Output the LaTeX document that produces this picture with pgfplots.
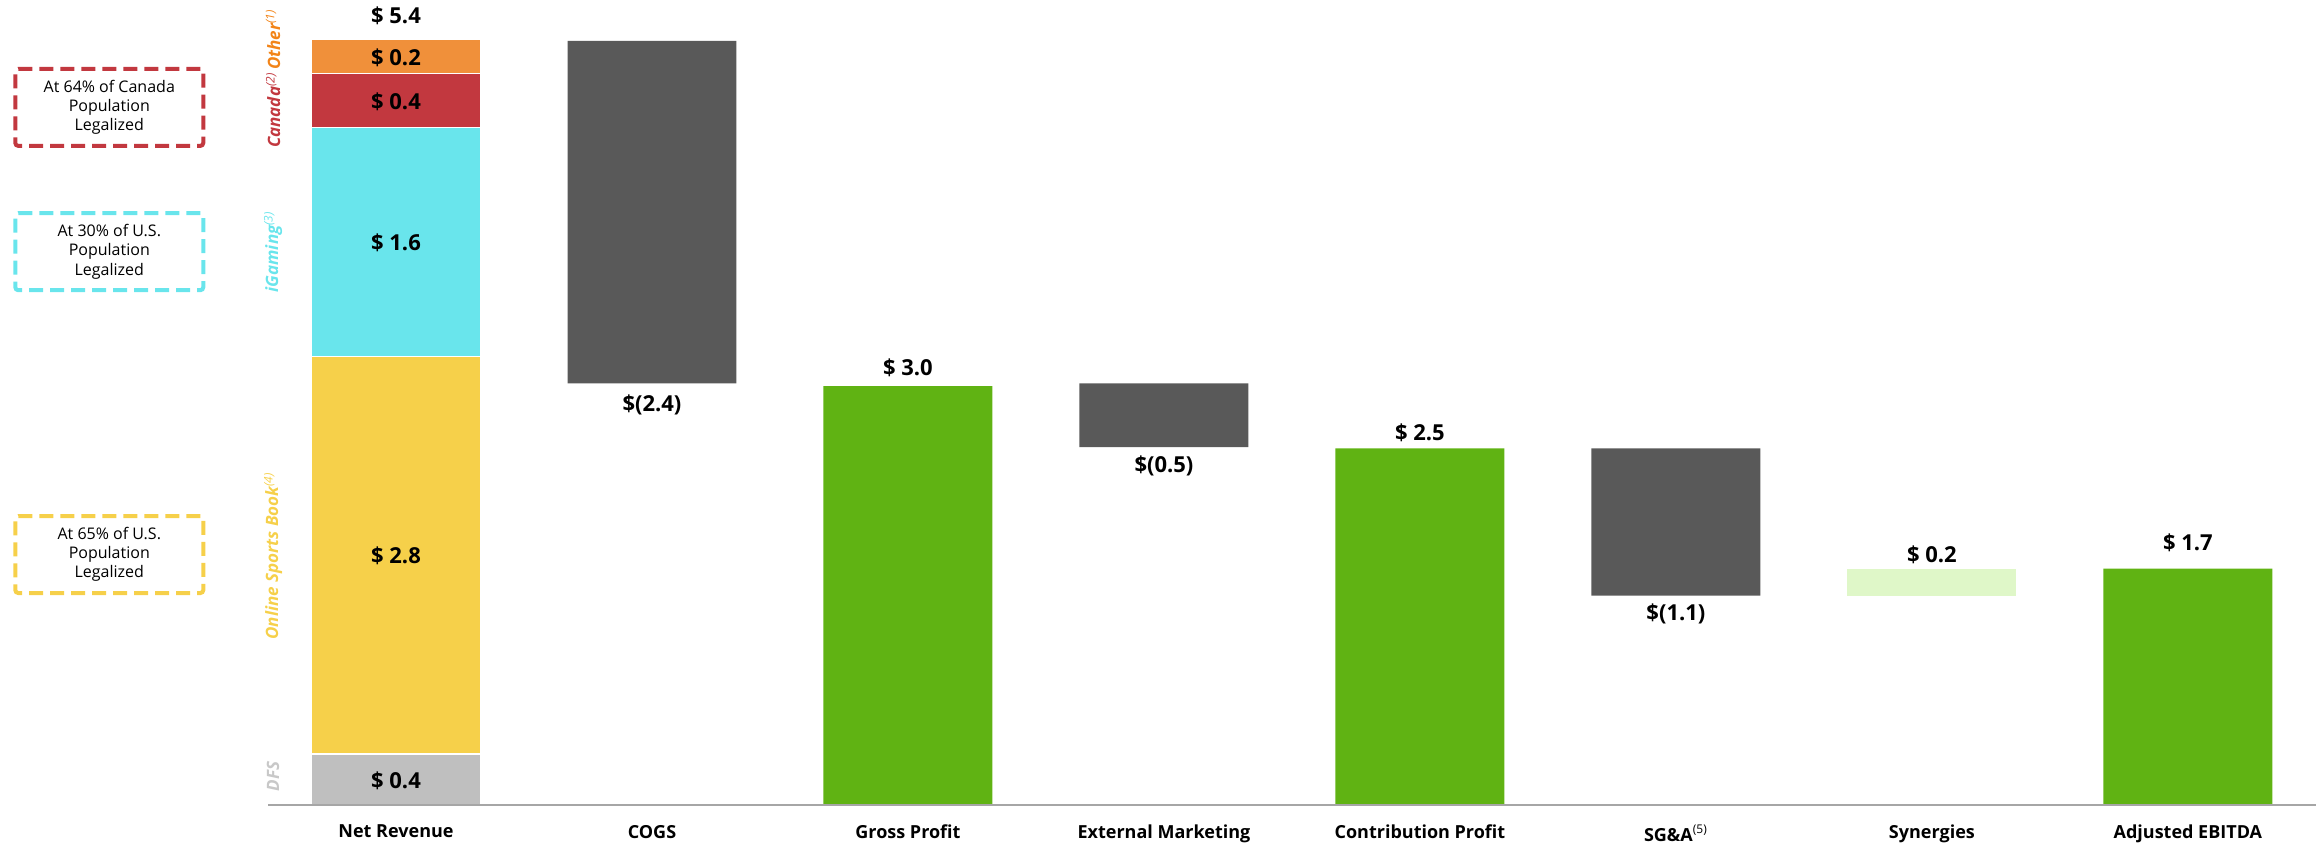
\documentclass[border=0pt]{standalone}
\usepackage{fontspec}
\setmainfont{Open Sans}
\usepackage{pgfplots}
\pgfplotsset{compat=1.18}
\definecolor{cOther}{HTML}{F0903A}
\definecolor{cOtherT}{HTML}{F28418}
\definecolor{cCan}{HTML}{C2383F}
\definecolor{cIG}{HTML}{69E5EC}
\definecolor{cOSB}{HTML}{F6D04A}
\definecolor{cDFS}{HTML}{BFBFBF}
\definecolor{cDFST}{HTML}{C8C8C8}
\definecolor{cNeg}{HTML}{595959}
\definecolor{cPos}{HTML}{60B313}
\definecolor{cSyn}{HTML}{DFF7C8}
\definecolor{cAxis}{HTML}{A6A6A6}
\begin{document}
\begin{tikzpicture}
\useasboundingbox (0,0) rectangle (1158pt,421.5pt);
\begin{axis}[
  at={(134pt,19pt)}, anchor=south west,
  scale only axis, width=1024pt, height=402.5pt,
  xmin=-0.5, xmax=7.5, ymin=0, ymax=5.689,
  ybar stacked, bar width=0.66,
  hide y axis, axis x line*=bottom,
  x axis line style={draw=none},
  xtick={0,...,7}, major tick length=0pt,
  xticklabels={Net Revenue, COGS, Gross Profit, External Marketing, Contribution Profit, {SG\&A\textsuperscript{\mdseries(5)}}, Synergies, Adjusted EBITDA},
  xticklabel style={font=\bfseries\fontsize{9}{11}\selectfont, text=black, yshift=-6.5pt},
  clip=false,
]
% invisible base of the waterfall
\addplot[fill=none, draw=none] coordinates {(0,0) (1,2.98) (2,0) (3,2.53) (4,0) (5,1.48) (6,1.48) (7,0)};
% Net revenue segments
\addplot[fill=cDFS, draw=white, line width=0.6pt] coordinates {(0,0.36) (1,0) (2,0) (3,0) (4,0) (5,0) (6,0) (7,0)};
\addplot[fill=cOSB, draw=white, line width=0.6pt] coordinates {(0,2.81) (1,0) (2,0) (3,0) (4,0) (5,0) (6,0) (7,0)};
\addplot[fill=cIG, draw=white, line width=0.6pt] coordinates {(0,1.62) (1,0) (2,0) (3,0) (4,0) (5,0) (6,0) (7,0)};
\addplot[fill=cCan, draw=white, line width=0.6pt] coordinates {(0,0.38) (1,0) (2,0) (3,0) (4,0) (5,0) (6,0) (7,0)};
\addplot[fill=cOther, draw=white, line width=0.6pt] coordinates {(0,0.24) (1,0) (2,0) (3,0) (4,0) (5,0) (6,0) (7,0)};
% decreases
\addplot[fill=cNeg, draw=none] coordinates {(0,0) (1,2.42) (2,0) (3,0.45) (4,0) (5,1.04) (6,0) (7,0)};
% totals
\addplot[fill=cPos, draw=none] coordinates {(0,0) (1,0) (2,2.96) (3,0) (4,2.52) (5,0) (6,0) (7,1.67)};
% synergies
\addplot[fill=cSyn, draw=none] coordinates {(0,0) (1,0) (2,0) (3,0) (4,0) (5,0) (6,0.19) (7,0)};

\coordinate (base0) at (axis cs:-0.5,0);
\coordinate (base1) at (axis cs:7.5,0);
\coordinate (l1) at (axis cs:0,5.58);
\coordinate (l2) at (axis cs:0,5.28);
\coordinate (l3) at (axis cs:0,4.97);
\coordinate (l4) at (axis cs:0,3.97);
\coordinate (l5) at (axis cs:0,1.76);
\coordinate (l6) at (axis cs:0,0.17);
\coordinate (w1) at (axis cs:1,2.83);
\coordinate (w2) at (axis cs:2,3.09);
\coordinate (w3) at (axis cs:3,2.40);
\coordinate (w4) at (axis cs:4,2.63);
\coordinate (w5) at (axis cs:5,1.35);
\coordinate (w6) at (axis cs:6,1.77);
\coordinate (w7) at (axis cs:7,1.85);
\coordinate (s1) at (axis cs:-0.48,5.41);
\coordinate (s2) at (axis cs:-0.48,4.91);
\coordinate (s3) at (axis cs:-0.48,3.91);
\coordinate (s4) at (axis cs:-0.48,1.76);
\coordinate (s5) at (axis cs:-0.48,0.20);
\coordinate (b1) at (axis cs:-1.12,4.93);
\coordinate (b2) at (axis cs:-1.12,3.91);
\coordinate (b3) at (axis cs:-1.12,1.77);
\end{axis}

\draw[cAxis, line width=1pt] (base0) -- (base1);

% value labels
\tikzset{vl/.style={font=\bfseries\fontsize{11}{13}\selectfont, text=black, inner sep=0pt}}
\node[vl] at (l1) {\$ 5.4};
\node[vl] at (l2) {\$ 0.2};
\node[vl] at (l3) {\$ 0.4};
\node[vl] at (l4) {\$ 1.6};
\node[vl] at (l5) {\$ 2.8};
\node[vl] at (l6) {\$ 0.4};
\node[vl] at (w1) {\$(2.4)};
\node[vl] at (w2) {\$ 3.0};
\node[vl] at (w3) {\$(0.5)};
\node[vl] at (w4) {\$ 2.5};
\node[vl] at (w5) {\$(1.1)};
\node[vl] at (w6) {\$ 0.2};
\node[vl] at (w7) {\$ 1.7};

% rotated segment names
\tikzset{sl/.style={rotate=90, font=\bfseries\itshape\fontsize{8.5}{10}\selectfont, inner sep=0pt}}
\node[sl, text=cOtherT] at (s1) {Other\textsuperscript{\mdseries(1)}};
\node[sl, text=cCan] at (s2) {Canada\textsuperscript{\mdseries(2)}};
\node[sl, text=cIG] at (s3) {iGaming\textsuperscript{\mdseries(3)}};
\node[sl, text=cOSB] at (s4) {Online Sports Book\textsuperscript{\mdseries(4)}};
\node[sl, text=cDFST] at (s5) {DFS};

% dashed boxes
\tikzset{db/.style={line width=2pt, dash pattern=on 7pt off 3.5pt, rounded corners=1.5pt, minimum width=94pt, minimum height=38.5pt, align=center, font=\fontsize{8}{9.6}\selectfont, text=black}}
\node[db, draw=cCan] at (b1) {At 64\% of Canada\\Population\\Legalized};
\node[db, draw=cIG] at (b2) {At 30\% of U.S.\\Population\\Legalized};
\node[db, draw=cOSB] at (b3) {At 65\% of U.S.\\Population\\Legalized};
\end{tikzpicture}
\end{document}
